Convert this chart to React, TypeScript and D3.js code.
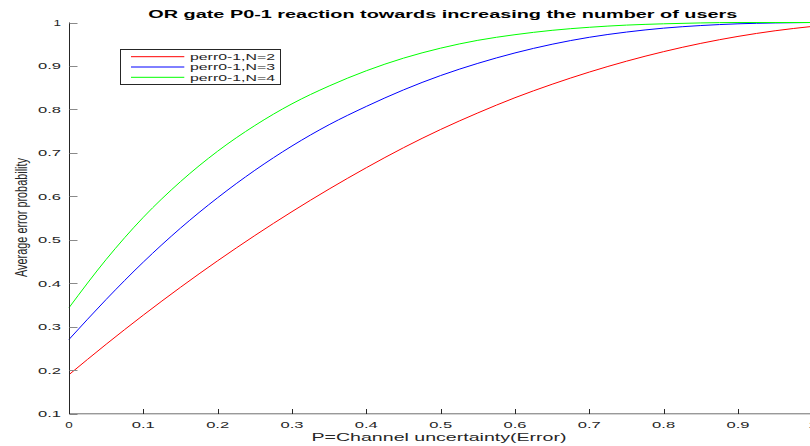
import React from "react";
import * as d3 from "d3";

const pValues = [0, 0.05, 0.1, 0.15, 0.2, 0.25, 0.3, 0.35, 0.4, 0.45, 0.5, 0.55, 0.6, 0.65, 0.7, 0.75, 0.8, 0.85, 0.9, 0.95, 1.0];
const perrN2 = [0.19, 0.26, 0.327, 0.391, 0.452, 0.51, 0.565, 0.617, 0.666, 0.712, 0.754, 0.792, 0.827, 0.858, 0.886, 0.911, 0.933, 0.952, 0.968, 0.981, 0.991];
const perrN3 = [0.271, 0.363, 0.449, 0.527, 0.597, 0.66, 0.716, 0.765, 0.807, 0.845, 0.878, 0.906, 0.93, 0.95, 0.966, 0.978, 0.987, 0.993, 0.997, 0.999, 1.0];
const perrN4 = [0.344, 0.455, 0.552, 0.634, 0.704, 0.763, 0.813, 0.854, 0.889, 0.918, 0.941, 0.959, 0.972, 0.982, 0.989, 0.994, 0.997, 0.999, 1.0, 1.0, 1.0];

const seriesNames = ["perr0-1,N=2", "perr0-1,N=3", "perr0-1,N=4"];
const seriesColors = ["#ff0000", "#0000ff", "#00ff00"];
const seriesValues = [perrN2, perrN3, perrN4];

const xTicks = [0, 0.1, 0.2, 0.3, 0.4, 0.5, 0.6, 0.7, 0.8, 0.9, 1];
const yTicks = [0.1, 0.2, 0.3, 0.4, 0.5, 0.6, 0.7, 0.8, 0.9, 1];

const titleText = "OR gate P0-1 reaction towards increasing the number of users";
const xLabel = "P=Channel uncertainty(Error)";
const yLabel = "Average error probability";

const W = 810;
const H = 446;
const FONT = "'Liberation Sans', Arial, Helvetica, sans-serif";

export default function App() {
  const x = d3.scaleLinear().domain([0, 1]).range([69, 812.3]);
  const y = d3.scaleLinear().domain([0.1, 1]).range([413.8, 22.5]);
  const line = d3
    .line<[number, number]>()
    .x((d) => x(d[0]))
    .y((d) => y(d[1]))
    .curve(d3.curveMonotoneX);

  const fmt = (v: number) => (v === 0 ? "0" : v === 1 ? "1" : d3.format(".1f")(v));
  const labelLen = (s: string) => (s.length === 1 ? 7.5 : 23);

  const legend = { x0: 120.5, y0: 49.5, x1: 280.5, y1: 84.5 };
  const rowY = [56.7, 67, 77.3];

  return (
    <div style={{ position: "absolute", left: 0, top: 0 }}>
      <svg width={W} height={H} style={{ display: "block", background: "#fff" }}>
        <rect x={0} y={0} width={W} height={H} fill="#fff" />

        {/* curves */}
        {seriesValues.map((vals, i) => (
          <path
            key={i}
            d={line(pValues.map((p, j) => [p, vals[j]] as [number, number])) || ""}
            fill="none"
            stroke={seriesColors[i]}
            strokeWidth={1}
          />
        ))}

        {/* y axis */}
        <line x1={69.5} x2={69.5} y1={y(1)} y2={y(0.1)} stroke="#262626" strokeWidth={1} />
        {yTicks.map((t) => (
          <g key={t}>
            <line x1={69.5} x2={77.5} y1={Math.round(y(t)) + 0.5} y2={Math.round(y(t)) + 0.5} stroke="#8a8a8a" strokeWidth={1} />
            <text
              x={61}
              y={y(t) + 3.4}
              textAnchor="end"
              fontFamily={FONT}
              fontSize={9.5}
              fill="#262626"
              textLength={labelLen(fmt(t))}
              lengthAdjust="spacingAndGlyphs"
            >
              {fmt(t)}
            </text>
          </g>
        ))}

        {/* x axis */}
        <line x1={69} x2={812} y1={413.8} y2={413.8} stroke="#6e6e6e" strokeWidth={1} />
        {xTicks.map((t) => (
          <g key={t}>
            <line x1={Math.round(x(t)) + 0.5} x2={Math.round(x(t)) + 0.5} y1={414} y2={409} stroke="#262626" strokeWidth={1} />
            <text
              x={x(t)}
              y={427.5}
              textAnchor="middle"
              fontFamily={FONT}
              fontSize={9.5}
              fill="#262626"
              textLength={labelLen(fmt(t))}
              lengthAdjust="spacingAndGlyphs"
            >
              {fmt(t)}
            </text>
          </g>
        ))}

        {/* title */}
        <text
          x={442.8}
          y={17.5}
          textAnchor="middle"
          fontFamily={FONT}
          fontWeight="bold"
          fontSize={11}
          fill="#000"
          textLength={589}
          lengthAdjust="spacingAndGlyphs"
        >
          {titleText}
        </text>

        {/* x label */}
        <text
          x={439}
          y={440.5}
          textAnchor="middle"
          fontFamily={FONT}
          fontSize={11}
          fill="#262626"
          textLength={255}
          lengthAdjust="spacingAndGlyphs"
        >
          {xLabel}
        </text>

        {/* y label */}
        <text
          transform="translate(27,217.5) scale(1.45,1) rotate(-90)"
          textAnchor="middle"
          fontFamily={FONT}
          fontSize={11}
          fill="#262626"
          textLength={119}
          lengthAdjust="spacingAndGlyphs"
        >
          {yLabel}
        </text>

        {/* legend */}
        <rect
          x={legend.x0}
          y={legend.y0}
          width={legend.x1 - legend.x0}
          height={legend.y1 - legend.y0}
          fill="#fff"
          stroke="#262626"
          strokeWidth={1}
        />
        {seriesNames.map((name, i) => (
          <g key={name}>
            <line x1={131} x2={184.3} y1={rowY[i]} y2={rowY[i]} stroke={seriesColors[i]} strokeWidth={1} />
            <text
              x={190}
              y={rowY[i] + 3.4}
              fontFamily={FONT}
              fontSize={9.5}
              fill="#262626"
              textLength={85}
              lengthAdjust="spacingAndGlyphs"
            >
              {name}
            </text>
          </g>
        ))}
      </svg>
    </div>
  );
}
